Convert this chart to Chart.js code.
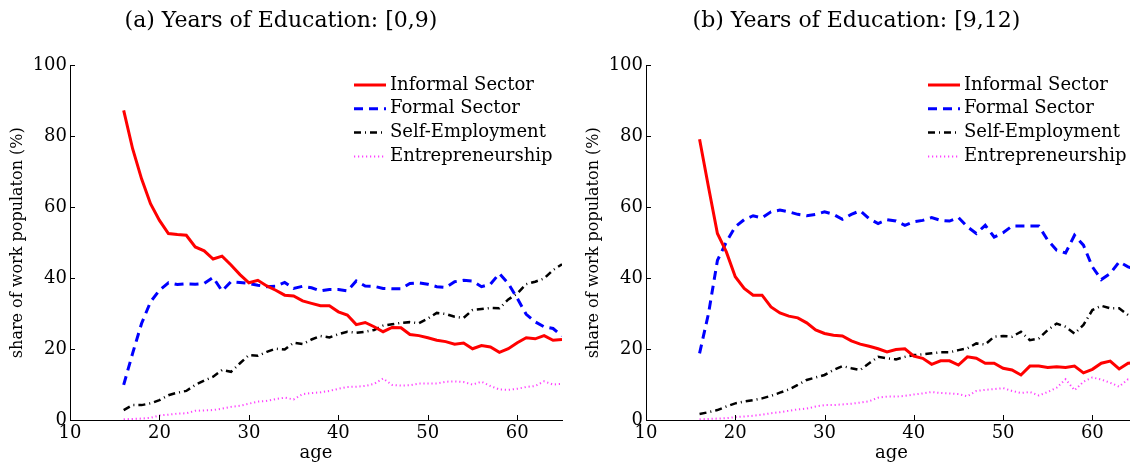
<!DOCTYPE html>
<html>
<head>
<meta charset="utf-8">
<script src="https://cdn.jsdelivr.net/npm/chart.js@4.4.1/dist/chart.umd.min.js"></script>
<style>
  html, body { margin: 0; padding: 0; background: #fff; overflow: hidden; }
  body { width: 1130px; height: 464px; position: relative; }
  .panel { position: absolute; top: 0; height: 464px; }
  #panelA { left: 0; width: 575px; }
  #panelB { left: 576px; width: 576px; }
</style>
</head>
<body>
<div class="panel" id="panelA"><canvas id="chartA"></canvas></div>
<div class="panel" id="panelB"><canvas id="chartB"></canvas></div>
<script>
const ages = [16,17,18,19,20,21,22,23,24,25,26,27,28,29,30,31,32,33,34,35,36,37,38,39,40,
              41,42,43,44,45,46,47,48,49,50,51,52,53,54,55,56,57,58,59,60,61,62,63,64,65];

const xTicks = [10, 20, 30, 40, 50, 60];
const yTicks = [0, 20, 40, 60, 80, 100];
const seriesNames = ['Informal Sector', 'Formal Sector', 'Self-Employment', 'Entrepreneurship'];

// (a) [0,9)
const informalA = [87.3,76.5,68,61,56.3,52.6,52.3,52.1,48.8,47.7,45.4,46.2,43.7,41,38.7,39.4,37.8,36.6,35.2,35,
                   33.6,32.9,32.2,32.2,30.5,29.6,26.9,27.5,26.3,24.9,26.1,26,24.1,23.8,23.2,22.5,22.1,21.4,21.7,20.1,
                   21,20.6,19.1,20.1,21.8,23.2,22.9,23.8,22.5,22.7];
const formalA = [9.9,18.8,27.2,33.3,36.6,38.7,38.2,38.4,38.3,38.5,40.2,36.4,39,38.8,38.5,38,37.6,37.7,38.8,37.1,
                 37.7,37.3,36.4,36.8,36.8,36.4,39.2,37.8,37.7,37.1,37,37,38.5,38.7,38.3,37.6,37.4,39,39.4,39.2,
                 37.6,38.3,41.3,38.5,34.3,29.8,27.7,26.3,25.8,23.7];
const selfA = [2.8,4.2,4.2,4.7,5.6,7,7.7,8.2,9.9,11.1,12.2,14.1,13.6,16,18.3,18.1,19.2,20.1,19.9,21.8,
               21.4,22.7,23.7,23.3,24.2,24.9,24.6,24.9,25.4,26.6,27,27.4,27.6,27.3,28.6,30.2,29.9,29.1,28.8,31,
               31.3,31.6,31.5,34,35.7,38.3,39,39.9,42.3,43.9];
const entreA = [0.2,0.3,0.4,0.6,1.3,1.5,1.8,1.9,2.6,2.7,2.8,3.2,3.7,4,4.6,5.2,5.4,5.9,6.3,5.8,
                7.3,7.6,7.8,8.2,8.8,9.3,9.4,9.6,10.2,11.7,9.9,9.7,9.8,10.3,10.3,10.3,10.8,10.9,10.7,10,
                10.8,9.6,8.6,8.5,8.8,9.3,9.6,10.9,10,10.2];

// (b) [9,12)
const informalB = [79.2,65.7,52.6,47.4,40.4,37.1,35.2,35.2,31.9,30.2,29.3,28.8,27.4,25.4,24.4,23.9,23.7,22.3,21.4,20.8,
                   20.1,19.2,19.9,20.1,18,17.4,15.7,16.7,16.7,15.5,17.8,17.4,16,16,14.6,14.1,12.7,15.2,15.2,14.8,
                   15,14.8,15.2,13.3,14.3,16,16.6,14.4,16,16.2];
const formalB = [18.8,30,45,50.2,54.5,56.5,57.6,57,58.7,59.2,58.7,58,57.6,58,58.7,58,56.6,58,59,56.8,
                 55.4,56.5,56.1,54.9,55.9,56.3,57.1,56.3,56.1,57.1,54.5,52.6,54.9,51.6,52.8,54.7,54.7,54.7,54.7,50.7,
                 47.9,47.1,52.1,49.3,43.2,39.6,41.3,44.6,43.2,42.3];
const selfB = [1.7,2.2,2.8,3.8,4.7,5.2,5.6,6.1,6.8,7.7,8.6,9.9,11.3,12,12.7,14.1,15.2,14.6,14.1,16,
               17.8,17.4,17.1,17.8,18.3,18.5,18.8,19.1,19.1,19.7,20.2,21.6,21.3,23.5,23.7,23.5,24.9,22.5,23,25.4,
               27.2,26.3,24.4,26.8,31,32.2,31.5,31.5,29.6,28.6];
const entreB = [0.2,0.3,0.4,0.5,0.8,1,1.2,1.5,1.9,2.2,2.6,3,3.2,3.8,4.2,4.2,4.4,4.6,4.9,5.3,
                6.3,6.6,6.6,6.8,7.2,7.5,7.9,7.6,7.5,7.3,6.7,8.2,8.5,8.7,9,8.2,7.6,7.9,6.9,7.9,
                9.1,11.5,8.4,10.8,12,11.4,10.5,9.4,11.5,11];

const serif = 'DejaVu Serif';

const styles = [
  { color: '#ff0000', width: 3, dash: [] },
  { color: '#0000ff', width: 3, dash: [9, 6] },
  { color: '#000000', width: 2.5, dash: [7, 4, 1, 4] },
  { color: '#ff40ff', width: 2, dash: [1.2, 2.8] }
];

function pts(vals) {
  return ages.map((a, i) => ({ x: a, y: vals[i] }));
}

// inward tick marks like the original
const innerTicks = {
  id: 'innerTicks',
  afterDatasetsDraw(chart) {
    const { ctx, chartArea, scales } = chart;
    ctx.save();
    ctx.strokeStyle = '#000';
    ctx.lineWidth = 1;
    ctx.beginPath();
    xTicks.forEach(v => {
      const px = Math.round(scales.x.getPixelForValue(v)) + 0.5;
      ctx.moveTo(px, chartArea.bottom);
      ctx.lineTo(px, chartArea.bottom - 5);
    });
    yTicks.forEach(v => {
      const py = Math.round(scales.y.getPixelForValue(v)) + 0.5;
      ctx.moveTo(chartArea.left, py);
      ctx.lineTo(chartArea.left + 5, py);
    });
    ctx.stroke();
    ctx.restore();
  }
};

// legend drawn inside the plot, top right
const insideLegend = {
  id: 'insideLegend',
  afterDraw(chart, args, opts) {
    const { ctx } = chart;
    ctx.save();
    ctx.font = '18px "' + serif + '"';
    ctx.textBaseline = 'middle';
    ctx.fillStyle = '#000';
    chart.data.datasets.forEach((ds, i) => {
      const y = opts.top + i * 23.8;
      const st = styles[i];
      ctx.strokeStyle = st.color;
      ctx.lineWidth = st.width;
      ctx.setLineDash(st.dash);
      ctx.beginPath();
      ctx.moveTo(opts.x, y);
      ctx.lineTo(opts.x + 32, y);
      ctx.stroke();
      ctx.setLineDash([]);
      ctx.fillText(ds.label, opts.x + 36, y);
    });
    ctx.restore();
  }
};

function makeChart(id, title, series, legendX) {
  return new Chart(document.getElementById(id), {
    type: 'line',
    data: {
      datasets: series.map((vals, i) => ({
        label: seriesNames[i],
        data: pts(vals),
        borderColor: styles[i].color,
        borderWidth: styles[i].width,
        borderDash: styles[i].dash,
        pointRadius: 0,
        tension: 0,
        fill: false
      }))
    },
    options: {
      responsive: true,
      maintainAspectRatio: false,
      animation: false,
      layout: { padding: { left: 0, right: id === 'chartA' ? 13 : 15, top: 0, bottom: 0 } },
      plugins: {
        legend: { display: false },
        tooltip: { enabled: false },
        title: {
          display: true,
          text: title,
          color: '#000',
          font: { family: serif, size: 22, weight: 'normal' },
          padding: { top: 8, bottom: 31 }
        },
        insideLegend: { x: legendX, top: 85 }
      },
      scales: {
        x: {
          type: 'linear',
          min: 10,
          max: 65,
          afterFit: s => { s.height = 44; },
          afterBuildTicks: s => { s.ticks = xTicks.map(v => ({ value: v })); },
          grid: { display: false, drawTicks: false, tickLength: 0 },
          border: { display: true, color: '#000', width: 1 },
          ticks: { color: '#000', padding: 3, font: { family: serif, size: 18 } },
          title: {
            display: true, text: 'age', color: '#000',
            font: { family: serif, size: 18 }, padding: { top: 0, bottom: 0 }
          }
        },
        y: {
          min: 0,
          max: 100,
          afterFit: s => { s.width = 70; },
          afterBuildTicks: s => { s.ticks = yTicks.map(v => ({ value: v })); },
          grid: { display: false, drawTicks: false, tickLength: 0 },
          border: { display: true, color: '#000', width: 1 },
          ticks: { color: '#000', padding: 3, font: { family: serif, size: 18 } },
          title: {
            display: true, text: 'share of work populaton (%)', color: '#000',
            font: { family: serif, size: 16 }, padding: { top: 8, bottom: 0 }
          }
        }
      }
    },
    plugins: [innerTicks, insideLegend]
  });
}

makeChart('chartA', '(a) Years of Education: [0,9)', [informalA, formalA, selfA, entreA], 354 - 0);
makeChart('chartB', '(b) Years of Education: [9,12)', [informalB, formalB, selfB, entreB], 928 - 576);
</script>
</body>
</html>
